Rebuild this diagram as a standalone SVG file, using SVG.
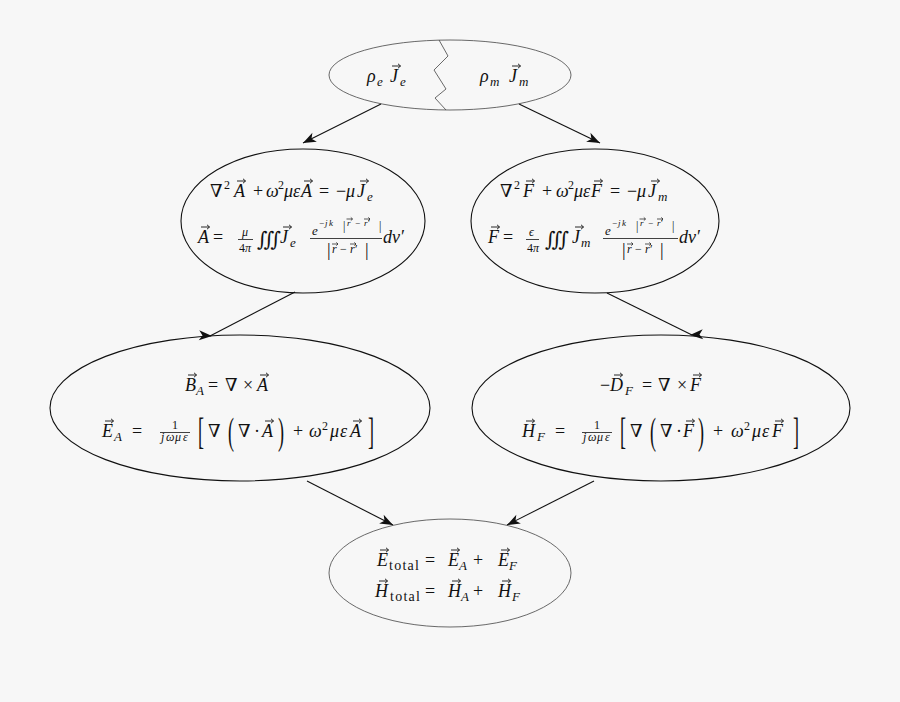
<svg xmlns="http://www.w3.org/2000/svg" width="900" height="702" viewBox="0 0 900 702" font-family="'Liberation Serif', 'Times New Roman', 'DejaVu Serif', serif">
<style>
.bg{fill:#f7f7f7}
.e1{fill:none;stroke:#444;stroke-width:0.8}
.e2{fill:none;stroke:#111;stroke-width:1.1}
.ln{stroke:#111;stroke-width:1.1;fill:none}
.fb{stroke:#111;stroke-width:0.8}
text{font-family:'Liberation Serif','Times New Roman','DejaVu Serif',serif;font-size:18px;fill:#111}
.i{font-style:italic}
.s{font-size:13px}
.f{font-size:12px}
.x{font-size:9px}
.t{font-size:14px}
.b{font-size:20px}
</style>
<defs>
<path id="va" d="M0,0H8.5M6,-2.2L8.5,0L6,2.2" fill="none" stroke="#111" stroke-width="0.9"/>
<path id="vs" d="M0,0H6M4.3,-1.6L6,0L4.3,1.6" fill="none" stroke="#111" stroke-width="0.7"/>
<path id="ah" d="M0,0L-13,-5L-9.5,0L-13,5Z" fill="#111"/>
</defs>
<rect class="bg" x="0" y="0" width="900" height="702"/>

<g id="connectors">
<line class="ln" x1="381" y1="104" x2="303" y2="143"/>
<use href="#ah" transform="translate(303,143) rotate(153.4)"/>
<line class="ln" x1="519" y1="104" x2="600" y2="143"/>
<use href="#ah" transform="translate(600,143) rotate(25.7)"/>
<line class="ln" x1="295" y1="292" x2="210" y2="336"/>
<use href="#ah" transform="translate(212,336) rotate(3)"/>
<line class="ln" x1="607" y1="293" x2="692" y2="335"/>
<use href="#ah" transform="translate(690,335) rotate(177)"/>
<line class="ln" x1="307" y1="481" x2="393" y2="525"/>
<use href="#ah" transform="translate(393,525) rotate(27)"/>
<line class="ln" x1="594" y1="481" x2="507" y2="525"/>
<use href="#ah" transform="translate(507,525) rotate(153)"/>
</g>

<g id="n-src">
<ellipse class="e1" cx="450" cy="75" rx="121" ry="35"/>
<path class="e1" d="M439,40L448,56L434,70L446,89L435,98L446,110"/>
<text><tspan class="i" x="367" y="82">ρ</tspan><tspan class="i s" x="377" y="86">e</tspan><tspan class="i" x="390" y="82">J</tspan><tspan class="i s" x="400" y="86">e</tspan></text>
<use href="#va" x="392" y="66"/>
<text><tspan class="i" x="480" y="82">ρ</tspan><tspan class="i s" x="490" y="86">m</tspan><tspan class="i" x="509" y="82">J</tspan><tspan class="i s" x="519" y="86">m</tspan></text>
<use href="#va" x="512" y="66"/>
</g>

<g id="n-A">
<ellipse class="e2" cx="303" cy="221" rx="122" ry="72"/>
<text><tspan x="210" y="197">∇</tspan><tspan class="f" x="224" y="189">2</tspan><tspan class="i" x="234" y="197">A</tspan><tspan x="253" y="197">+</tspan><tspan class="i" x="266" y="197">ω</tspan><tspan class="f" x="278" y="189">2</tspan><tspan class="i" x="284" y="197">μ</tspan><tspan class="i" x="293" y="197">ε</tspan><tspan class="i" x="301" y="197">A</tspan><tspan x="319" y="197">=</tspan><tspan x="336" y="197">−</tspan><tspan class="i" x="346" y="197">μ</tspan><tspan class="i" x="357" y="197">J</tspan><tspan class="i s" x="367" y="201">e</tspan></text>
<use href="#va" x="237" y="181"/><use href="#va" x="304" y="181"/><use href="#va" x="360" y="181"/>
<text><tspan class="i" x="198" y="243">A</tspan><tspan x="213" y="243">=</tspan><tspan class="i f" x="242" y="236">μ</tspan><tspan class="f" x="239" y="252">4</tspan><tspan class="i f" x="245" y="252">π</tspan><tspan class="b" x="257" y="246">∭</tspan><tspan class="i" x="280" y="243">J</tspan><tspan class="i s" x="290" y="247">e</tspan><tspan class="i s" x="312" y="235">e</tspan><tspan class="x" x="319" y="226">−</tspan><tspan class="i x" x="325" y="226">j</tspan><tspan class="i x" x="329" y="226">k</tspan><tspan class="f" x="343" y="230">|</tspan><tspan class="i x" x="347" y="226">r</tspan><tspan class="x" x="355" y="226">−</tspan><tspan class="i x" x="364" y="226">r</tspan><tspan class="x" x="368" y="226">′</tspan><tspan class="f" x="379" y="230">|</tspan><tspan x="327" y="256">|</tspan><tspan class="i f" x="332" y="253">r</tspan><tspan class="f" x="340" y="253">−</tspan><tspan class="i f" x="350" y="253">r</tspan><tspan class="f" x="355" y="253">′</tspan><tspan x="365" y="256">|</tspan><tspan class="i" x="383" y="243">d</tspan><tspan class="i" x="392" y="243">v</tspan><tspan x="401" y="243">′</tspan></text>
<use href="#va" x="201" y="227"/><use href="#va" x="283" y="227"/>
<line class="fb" x1="238" y1="239.5" x2="253" y2="239.5"/>
<line class="fb" x1="310" y1="238.5" x2="382" y2="238.5"/>
<use href="#vs" x="346.5" y="219"/><use href="#vs" x="364" y="219"/>
<use href="#vs" x="332" y="244"/><use href="#vs" x="350" y="244"/>
</g>

<g id="n-F">
<ellipse class="e2" cx="595" cy="221" rx="124" ry="72"/>
<text><tspan x="500" y="197">∇</tspan><tspan class="f" x="514" y="189">2</tspan><tspan class="i" x="523" y="197">F</tspan><tspan x="542" y="197">+</tspan><tspan class="i" x="556" y="197">ω</tspan><tspan class="f" x="568" y="189">2</tspan><tspan class="i" x="574" y="197">μ</tspan><tspan class="i" x="583" y="197">ε</tspan><tspan class="i" x="591" y="197">F</tspan><tspan x="610" y="197">=</tspan><tspan x="627" y="197">−</tspan><tspan class="i" x="637" y="197">μ</tspan><tspan class="i" x="648" y="197">J</tspan><tspan class="i s" x="658" y="201">m</tspan></text>
<use href="#va" x="526" y="181"/><use href="#va" x="594" y="181"/><use href="#va" x="651" y="181"/>
<text><tspan class="i" x="488" y="243">F</tspan><tspan x="503" y="243">=</tspan><tspan class="i f" x="529" y="236">ϵ</tspan><tspan class="f" x="527" y="252">4</tspan><tspan class="i f" x="533" y="252">π</tspan><tspan class="b" x="545" y="246">∭</tspan><tspan class="i" x="572" y="243">J</tspan><tspan class="i s" x="581" y="247">m</tspan><tspan class="i s" x="605" y="235">e</tspan><tspan class="x" x="612" y="226">−</tspan><tspan class="i x" x="618" y="226">j</tspan><tspan class="i x" x="622" y="226">k</tspan><tspan class="f" x="636" y="230">|</tspan><tspan class="i x" x="640" y="226">r</tspan><tspan class="x" x="648" y="226">−</tspan><tspan class="i x" x="657" y="226">r</tspan><tspan class="x" x="661" y="226">′</tspan><tspan class="f" x="672" y="230">|</tspan><tspan x="622" y="256">|</tspan><tspan class="i f" x="627" y="253">r</tspan><tspan class="f" x="635" y="253">−</tspan><tspan class="i f" x="645" y="253">r</tspan><tspan class="f" x="650" y="253">′</tspan><tspan x="660" y="256">|</tspan><tspan class="i" x="679" y="243">d</tspan><tspan class="i" x="688" y="243">v</tspan><tspan x="697" y="243">′</tspan></text>
<use href="#va" x="491" y="227"/><use href="#va" x="575" y="227"/>
<line class="fb" x1="526" y1="239.5" x2="539" y2="239.5"/>
<line class="fb" x1="603" y1="238.5" x2="678" y2="238.5"/>
<use href="#vs" x="639.5" y="219"/><use href="#vs" x="657" y="219"/>
<use href="#vs" x="627" y="244"/><use href="#vs" x="645" y="244"/>
</g>

<g id="n-EA">
<ellipse class="e2" cx="240" cy="408" rx="190" ry="73"/>
<text><tspan class="i" x="185" y="391">B</tspan><tspan class="i s" x="196" y="395">A</tspan><tspan x="208" y="391">=</tspan><tspan x="225" y="391">∇</tspan><tspan x="243" y="391">×</tspan><tspan class="i" x="257" y="391">A</tspan></text>
<use href="#va" x="188" y="375"/><use href="#va" x="260" y="375"/>
<text><tspan class="i" x="102" y="437">E</tspan><tspan class="i s" x="114" y="441">A</tspan><tspan x="132" y="437">=</tspan><tspan class="f" x="172" y="429">1</tspan><tspan class="i f" x="161" y="441">j</tspan><tspan class="i f" x="166" y="441">ω</tspan><tspan class="i f" x="175" y="441">μ</tspan><tspan class="i f" x="183" y="441">ε</tspan><tspan x="208" y="437">∇</tspan><tspan x="238" y="437">∇</tspan><tspan x="254" y="437">·</tspan><tspan class="i" x="262" y="437">A</tspan><tspan x="293" y="437">+</tspan><tspan class="i" x="309" y="437">ω</tspan><tspan class="f" x="322" y="430">2</tspan><tspan class="i" x="330" y="437">μ</tspan><tspan class="i" x="340" y="437">ε</tspan><tspan class="i" x="350" y="437">A</tspan></text>
<text transform="translate(198,444) scale(1,2.1)">[</text>
<text transform="translate(228,444) scale(1,2.1)">(</text>
<text transform="translate(278,444) scale(1,2.1)">)</text>
<text transform="translate(368,444) scale(1,2.1)">]</text>
<line class="fb" x1="160" y1="432.5" x2="190" y2="432.5"/>
<use href="#va" x="105" y="421"/><use href="#va" x="265" y="421"/><use href="#va" x="353" y="421"/>
</g>

<g id="n-HF">
<ellipse class="e2" cx="661" cy="408" rx="189" ry="73"/>
<text><tspan x="600" y="391">−</tspan><tspan class="i" x="610" y="391">D</tspan><tspan class="i s" x="625" y="395">F</tspan><tspan x="642" y="391">=</tspan><tspan x="658" y="391">∇</tspan><tspan x="677" y="391">×</tspan><tspan class="i" x="690" y="391">F</tspan></text>
<use href="#va" x="614" y="375"/><use href="#va" x="693" y="375"/>
<text><tspan class="i" x="522" y="437">H</tspan><tspan class="i s" x="537" y="441">F</tspan><tspan x="555" y="437">=</tspan><tspan class="f" x="594" y="429">1</tspan><tspan class="i f" x="583" y="441">j</tspan><tspan class="i f" x="588" y="441">ω</tspan><tspan class="i f" x="597" y="441">μ</tspan><tspan class="i f" x="605" y="441">ε</tspan><tspan x="630" y="437">∇</tspan><tspan x="660" y="437">∇</tspan><tspan x="676" y="437">·</tspan><tspan class="i" x="683" y="437">F</tspan><tspan x="713" y="437">+</tspan><tspan class="i" x="731" y="437">ω</tspan><tspan class="f" x="744" y="430">2</tspan><tspan class="i" x="752" y="437">μ</tspan><tspan class="i" x="762" y="437">ε</tspan><tspan class="i" x="772" y="437">F</tspan></text>
<text transform="translate(620,444) scale(1,2.1)">[</text>
<text transform="translate(650,444) scale(1,2.1)">(</text>
<text transform="translate(698,444) scale(1,2.1)">)</text>
<text transform="translate(793,444) scale(1,2.1)">]</text>
<line class="fb" x1="582" y1="432.5" x2="612" y2="432.5"/>
<use href="#va" x="526" y="421"/><use href="#va" x="686" y="421"/><use href="#va" x="775" y="421"/>
</g>

<g id="n-total">
<ellipse class="e1" cx="450" cy="573" rx="121" ry="54"/>
<text><tspan class="i" x="377" y="566">E</tspan><tspan class="t" x="389" y="570" textLength="30">total</tspan><tspan x="425" y="566">=</tspan><tspan class="i" x="448" y="566">E</tspan><tspan class="i s" x="459" y="570">A</tspan><tspan x="473" y="566">+</tspan><tspan class="i" x="498" y="566">E</tspan><tspan class="i s" x="509" y="570">F</tspan></text>
<use href="#va" x="380" y="550"/><use href="#va" x="451" y="550"/><use href="#va" x="501" y="550"/>
<text><tspan class="i" x="375" y="597">H</tspan><tspan class="t" x="390" y="601" textLength="30">total</tspan><tspan x="425" y="597">=</tspan><tspan class="i" x="448" y="597">H</tspan><tspan class="i s" x="461" y="601">A</tspan><tspan x="473" y="597">+</tspan><tspan class="i" x="498" y="597">H</tspan><tspan class="i s" x="512" y="601">F</tspan></text>
<use href="#va" x="379" y="581"/><use href="#va" x="452" y="581"/><use href="#va" x="502" y="581"/>
</g>
</svg>
